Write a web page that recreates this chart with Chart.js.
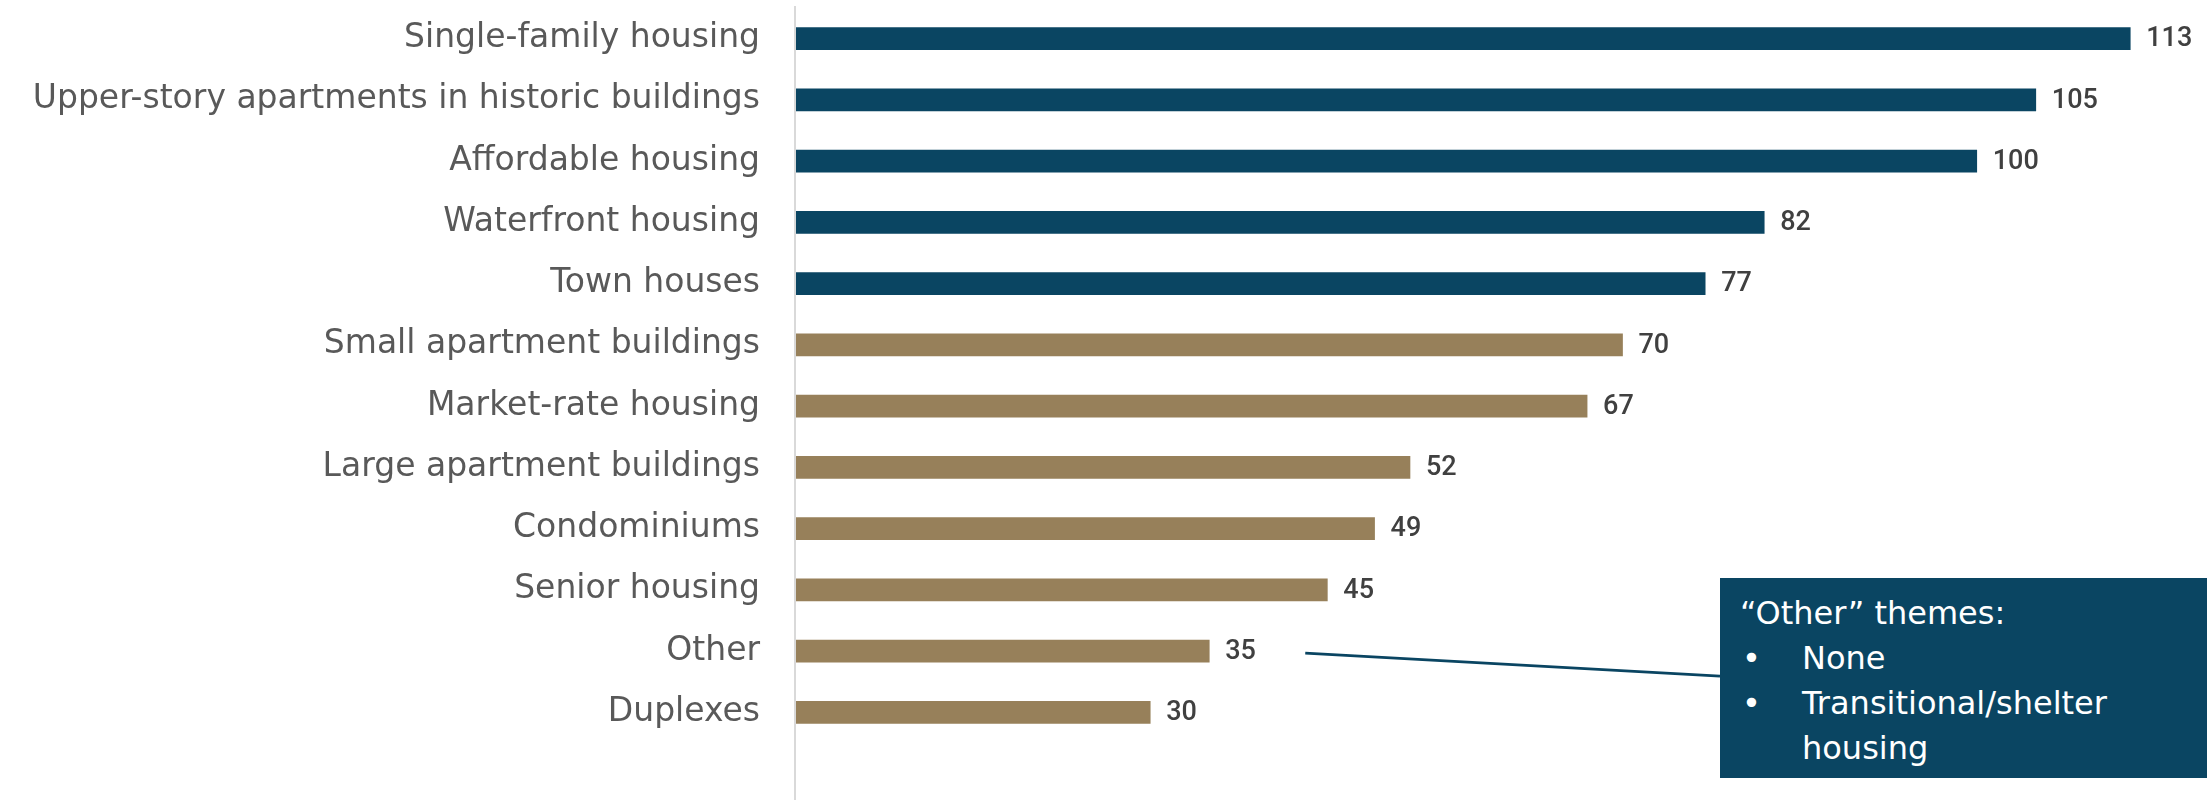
<!DOCTYPE html>
<html>
<head>
<meta charset="utf-8">
<script src="https://cdn.jsdelivr.net/npm/chart.js@4.4.1/dist/chart.umd.min.js"></script>
<style>
    html, body { margin: 0; padding: 0; background: #fff; }
    #wrap { position: relative; width: 2207px; height: 800px; }
    #housing-chart { display: block; }
    #other-box {
        position: absolute;
        left: 1720px; top: 578px; width: 487px; height: 200px;
        background: #0a4562; color: #fff;
        font-family: 'DejaVu Sans', sans-serif; font-size: 32px; line-height: 45px;
        box-sizing: border-box; padding: 13px 30px 0 20px;
    }
    #other-box ul { margin: 0; padding: 0; list-style: none; }
    #other-box li { position: relative; padding-left: 62px; }
    #other-box li::before { content: "\2022"; position: absolute; left: 2px; }
</style>
</head>
<body>
<div id="wrap">
    <canvas id="housing-chart" width="2207" height="800"></canvas>
    <div id="other-box">
        “Other” themes:
        <ul>
            <li>None</li>
            <li>Transitional/shelter housing</li>
        </ul>
    </div>
</div>
<script>
// ===== Housing types chart =====

const categories = [
    'Single-family housing',
    'Upper-story apartments in historic buildings',
    'Affordable housing',
    'Waterfront housing',
    'Town houses',
    'Small apartment buildings',
    'Market-rate housing',
    'Large apartment buildings',
    'Condominiums',
    'Senior housing',
    'Other',
    'Duplexes'
];
const counts = [113, 105, 100, 82, 77, 70, 67, 52, 49, 45, 35, 30];
const topFive = 5; // first five bars are highlighted in navy

const NAVY = '#0a4562';
const TAN = '#97805a';

const barColors = counts.map((_, i) => i < topFive ? NAVY : TAN);

// Value labels at the end of each bar + axis line + leader line to the "Other" box
const extrasPlugin = {
    id: 'extras',
    afterDatasetsDraw(chart) {
        const ctx = chart.ctx;
        const area = chart.chartArea;
        const meta = chart.getDatasetMeta(0);

        // vertical axis line, runs to the bottom of the picture
        ctx.save();
        ctx.strokeStyle = '#d9d9d9';
        ctx.lineWidth = 2;
        ctx.beginPath();
        ctx.moveTo(area.left - 1, 6);
        ctx.lineTo(area.left - 1, chart.height);
        ctx.stroke();

        // values
        ctx.fillStyle = '#404040';
        ctx.font = '500 27px Roboto, sans-serif';
        ctx.textAlign = 'left';
        ctx.textBaseline = 'middle';
        meta.data.forEach((bar, i) => {
            ctx.fillText(String(counts[i]), bar.x + 16, bar.y + 1);
        });

        // leader line from "Other" to the callout box
        const otherBar = meta.data[categories.indexOf('Other')];
        ctx.strokeStyle = NAVY;
        ctx.lineWidth = 3;
        ctx.beginPath();
        ctx.moveTo(otherBar.x + 96, otherBar.y + 2);
        ctx.lineTo(1720, otherBar.y + 25);
        ctx.stroke();
        ctx.restore();
    }
};

new Chart(document.getElementById('housing-chart'), {
    type: 'bar',
    data: {
        labels: categories,
        datasets: [{
            data: counts,
            backgroundColor: barColors,
            barThickness: 22
        }]
    },
    options: {
        indexAxis: 'y',
        responsive: false,
        animation: false,
        layout: { padding: { top: 8, bottom: 57, left: 0, right: 0 } },
        plugins: {
            legend: { display: false },
            tooltip: { enabled: false }
        },
        scales: {
            x: {
                display: false,
                min: 0,
                max: 119.5
            },
            y: {
                afterFit: (scale) => {
                    scale.width = 796;
                    scale.paddingTop = 0;
                    scale.paddingBottom = 0;
                },
                grid: { display: false, drawTicks: false },
                border: { display: false },
                ticks: {
                    color: '#595959',
                    padding: 36,
                    font: { family: "'DejaVu Sans', sans-serif", size: 33 }
                }
            }
        }
    },
    plugins: [extrasPlugin]
});
</script>
</body>
</html>
